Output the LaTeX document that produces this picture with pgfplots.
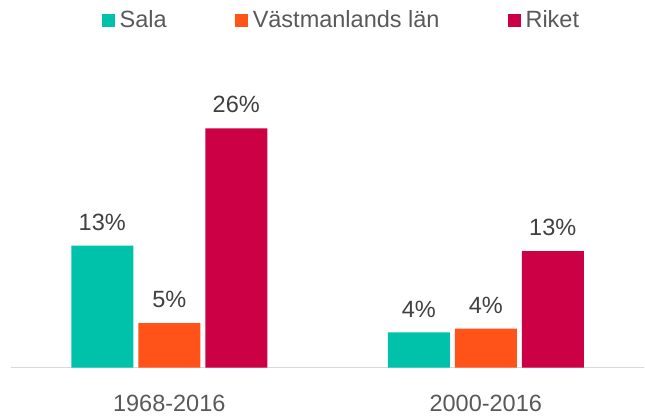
\documentclass[border=0pt]{standalone}
\usepackage{fontspec}
\setmainfont{Liberation Sans}
\usepackage{pgfplots}
\pgfplotsset{compat=1.18}
\definecolor{sala}{HTML}{00C1AA}
\definecolor{vast}{HTML}{FF5319}
\definecolor{riket}{HTML}{CC0044}
\definecolor{txt}{HTML}{595959}
\definecolor{lbl}{HTML}{404040}
\definecolor{axisgray}{HTML}{D9D9D9}

\begin{document}
\begin{tikzpicture}
\useasboundingbox (-11pt,-48.5pt) rectangle (634pt,367.5pt);
\begin{axis}[
  at={(0pt,0pt)}, anchor=south west,
  scale only axis,
  width=633pt, height=277pt,
  ybar=5pt, bar width=62pt,
  xmin=-0.5, xmax=1.5,
  ymin=0, ymax=30,
  axis y line=none,
  axis x line*=bottom,
  x axis line style={draw=axisgray, line width=1.5pt, -},
  major tick length=0pt,
  xtick={0,1},
  xticklabels={1968-2016,2000-2016},
  xticklabel style={text=txt, inner sep=0pt, yshift=-27pt},
  font=\fontsize{23.5pt}{28pt}\selectfont,
  /pgf/number format/assume math mode=true,
  nodes near coords={\pgfmathprintnumber[fixed,precision=0]{\pgfplotspointmeta}\%},
  every node near coord/.append style={anchor=south, yshift=15pt, inner sep=0pt,
    text=lbl, font=\fontsize{23.5pt}{28pt}\selectfont},
  legend columns=3,
  legend style={at={(axis description cs:0.143,1.254)}, anchor=west,
    draw=none, fill=none, inner sep=0pt, text=txt,
    font=\fontsize{23.5pt}{28pt}\selectfont,
    /tikz/every even column/.append style={column sep=66pt}},
  legend image code/.code={\fill[#1] (0pt,-6.5pt) rectangle (13pt,6.5pt); \path (16pt,0pt);},
]
\addplot[draw=none, fill=sala] coordinates {(0,13.2) (1,3.8)};
\addlegendentry{Sala}
\addplot[draw=none, fill=vast] coordinates {(0,4.8) (1,4.2)};
\addlegendentry{Västmanlands län}
\addplot[draw=none, fill=riket] coordinates {(0,25.9) (1,12.6)};
\addlegendentry{Riket}
\end{axis}
\end{tikzpicture}
\end{document}
